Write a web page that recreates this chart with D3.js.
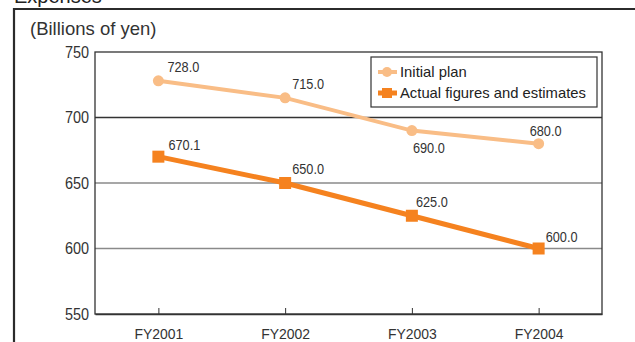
<!DOCTYPE html>
<html>
<head>
<meta charset="utf-8">
<script src="https://cdn.jsdelivr.net/npm/d3@7/dist/d3.min.js"></script>
<style>
  html, body { margin: 0; padding: 0; background: #fff; }
  svg { display: block; font-family: "Liberation Sans", Arial, Helvetica, sans-serif; }
</style>
</head>
<body>
<svg id="chart" width="635" height="342"></svg>
<script>
// Expenses: initial plan vs. actual figures and estimates (billions of yen)
const years = ["FY2001", "FY2002", "FY2003", "FY2004"];
const initialPlan = [728.0, 715.0, 690.0, 680.0];
const actual = [670.1, 650.0, 625.0, 600.0];
const yTicks = [550, 600, 650, 700, 750];
const seriesNames = ["Initial plan", "Actual figures and estimates"];

const svg = d3.select("#chart");
const W = 635, H = 342;
const m = { left: 95, right: 602, top: 52, bottom: 314 };

// Panel frame and title
svg.append("text").attr("x", 14).attr("y", 3)
  .attr("font-size", 20).attr("fill", "#222").text("Expenses");
svg.append("path")
  .attr("d", `M14,${H + 5}V9H${W + 5}`)
  .attr("fill", "none").attr("stroke", "#2b2b2b").attr("stroke-width", 2.2);

svg.append("text").attr("x", 30).attr("y", 35)
  .attr("font-size", 18.5).attr("fill", "#333").text("(Billions of yen)");

const x = d3.scalePoint().domain(years).range([m.left, m.right]).padding(0.5);
const y = d3.scaleLinear().domain([550, 750]).range([m.bottom, m.top]);

// Horizontal grid lines
svg.append("g").selectAll("line").data(yTicks.filter(v => v > 550 && v < 750)).join("line")
  .attr("x1", m.left).attr("x2", m.right)
  .attr("y1", d => y(d)).attr("y2", d => y(d))
  .attr("stroke", d => d === 700 ? "#333" : "#8a8a8a")
  .attr("stroke-width", 1.6);

// Plot border
svg.append("rect")
  .attr("x", m.left).attr("y", m.top)
  .attr("width", m.right - m.left).attr("height", m.bottom - m.top)
  .attr("fill", "none").attr("stroke", "#333").attr("stroke-width", 1.3);

// Narrow lettering: squeeze a text horizontally around its own anchor
function squeeze(sel, k) {
  sel.each(function () {
    const t = d3.select(this);
    const tx = +t.attr("x") || 0, ty = +t.attr("y") || 0;
    t.attr("x", 0).attr("y", 0)
      .attr("transform", `translate(${tx},${ty}) scale(${k},1)`);
  });
}

// Y axis labels
const yAxis = svg.append("g").attr("transform", `translate(${m.left - 6},0)`)
  .call(d3.axisLeft(y).tickValues(yTicks).tickSize(0).tickPadding(0));
yAxis.select(".domain").remove();
yAxis.selectAll("text").attr("font-size", 17).attr("fill", "#333")
  .attr("font-family", "'Liberation Sans', Arial, sans-serif")
  .call(squeeze, 0.85);

// X axis with inward ticks
const xAxis = svg.append("g").attr("transform", `translate(0,${m.bottom})`)
  .call(d3.axisBottom(x).tickSizeInner(-6).tickSizeOuter(0).tickPadding(0));
xAxis.select(".domain").attr("stroke", "#333").attr("stroke-width", 1.3);
xAxis.selectAll(".tick line").attr("stroke", "#333").attr("stroke-width", 1);
xAxis.selectAll("text").attr("font-size", 15.5).attr("fill", "#333")
  .attr("font-family", "'Liberation Sans', Arial, sans-serif")
  .attr("y", 14)
  .call(squeeze, 0.9);

const colPlan = "#f9bd86";
const colActual = "#f5821f";

const line = d3.line().x((d, i) => x(years[i])).y(d => y(d));

// Initial plan series
svg.append("path").datum(initialPlan)
  .attr("d", line).attr("fill", "none")
  .attr("stroke", colPlan).attr("stroke-width", 4);
svg.append("g").selectAll("circle").data(initialPlan).join("circle")
  .attr("cx", (d, i) => x(years[i])).attr("cy", d => y(d)).attr("r", 5.5)
  .attr("fill", colPlan);

// Actual series
svg.append("path").datum(actual)
  .attr("d", line).attr("fill", "none")
  .attr("stroke", colActual).attr("stroke-width", 5);
svg.append("g").selectAll("rect").data(actual).join("rect")
  .attr("x", (d, i) => x(years[i]) - 6).attr("y", d => y(d) - 6)
  .attr("width", 12).attr("height", 12)
  .attr("fill", colActual);

// Value labels
const planOffsets = [[9, -9], [7, -9], [1, 22], [-9, -8]];
svg.append("g").selectAll("text").data(initialPlan).join("text")
  .attr("x", (d, i) => x(years[i]) + planOffsets[i][0])
  .attr("y", (d, i) => y(d) + planOffsets[i][1])
  .attr("font-size", 15).attr("fill", "#333")
  .text(d => d.toFixed(1))
  .call(squeeze, 0.85);

const actualOffsets = [[10, -7], [7, -9], [4, -9], [7, -7]];
svg.append("g").selectAll("text").data(actual).join("text")
  .attr("x", (d, i) => x(years[i]) + actualOffsets[i][0])
  .attr("y", (d, i) => y(d) + actualOffsets[i][1])
  .attr("font-size", 15).attr("fill", "#333")
  .text(d => d.toFixed(1))
  .call(squeeze, 0.85);

// Legend
const lg = svg.append("g").attr("transform", "translate(371,57)");
lg.append("rect").attr("width", 226).attr("height", 50)
  .attr("fill", "#fff").attr("stroke", "#333").attr("stroke-width", 1.2);
const items = lg.selectAll("g.item").data(seriesNames).join("g")
  .attr("class", "item")
  .attr("transform", (d, i) => `translate(0,${15 + i * 21})`);
items.append("line").attr("x1", 7).attr("x2", 26).attr("y1", 0).attr("y2", 0)
  .attr("stroke", (d, i) => i === 0 ? colPlan : colActual)
  .attr("stroke-width", (d, i) => i === 0 ? 4 : 5);
items.filter((d, i) => i === 0).append("circle")
  .attr("cx", 16).attr("cy", 0).attr("r", 5).attr("fill", colPlan);
items.filter((d, i) => i === 1).append("rect")
  .attr("x", 11).attr("y", -5).attr("width", 10).attr("height", 10).attr("fill", colActual);
items.append("text").attr("x", 29).attr("y", 5)
  .attr("font-size", 14.8).attr("fill", "#222").text(d => d);
</script>
</body>
</html>
